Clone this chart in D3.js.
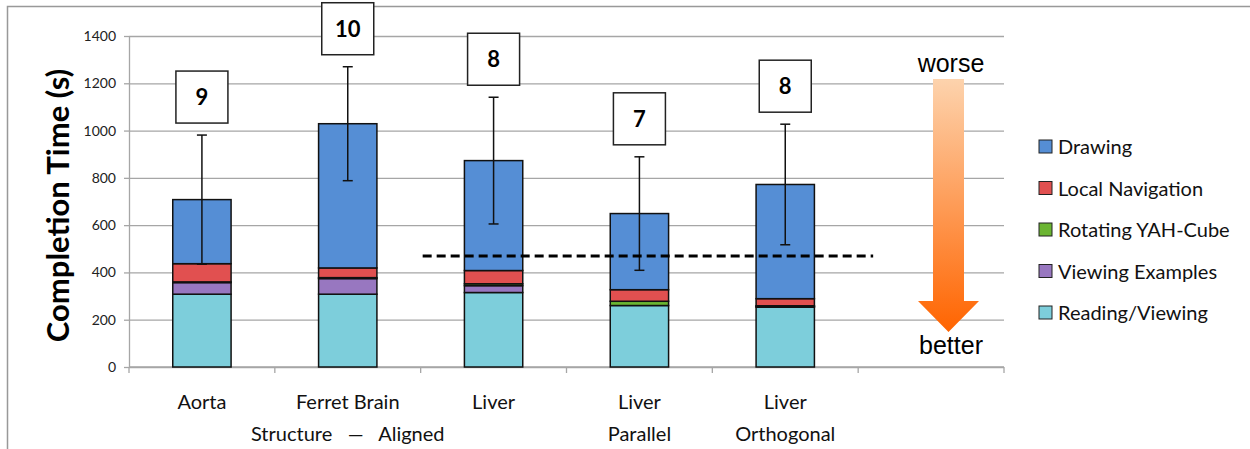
<!DOCTYPE html>
<html>
<head>
<meta charset="utf-8">
<script src="https://cdn.jsdelivr.net/npm/d3@7"></script>
<style>
  body { margin: 0; background: #fff; }
  svg { display: block; }
</style>
</head>
<body>
<div id="chart"></div>
<script>
(function () {

  // categories (multi-line labels), with an empty slot at the right
  const categories = ['Aorta', 'Ferret Brain', 'Liver', 'Liver Parallel', 'Liver Orthogonal']
  const labelLines = [['Aorta'], ['Ferret Brain'], ['Liver'], ['Liver', 'Parallel'], ['Liver', 'Orthogonal']]

  // stacked segments, bottom to top
  const reading = [308, 308, 315, 260, 253]
  const viewingExamples = [49, 66, 29, 0, 3]
  const rotatingCube = [3, 4, 8, 18, 3]
  const localNavigation = [77, 41, 56, 49, 30]
  const drawing = [271, 610, 465, 322, 483]

  const errors = [273, 241, 268, 240, 255]
  const counts = [9, 10, 8, 7, 8]
  const threshold = 470

  const yTicks = [0, 200, 400, 600, 800, 1000, 1200, 1400]

  const series = [
    { key: 'reading', name: 'Reading/Viewing', values: reading, color: '#7dcedb' },
    { key: 'viewing', name: 'Viewing Examples', values: viewingExamples, color: '#9877c0' },
    { key: 'rotating', name: 'Rotating YAH-Cube', values: rotatingCube, color: '#6bb532' },
    { key: 'local', name: 'Local Navigation', values: localNavigation, color: '#e15050' },
    { key: 'drawing', name: 'Drawing', values: drawing, color: '#558ed5' }
  ]

  const width = 1250
  const height = 449
  const plot = { left: 129, right: 1004, top: 36, bottom: 367 }
  const font = 'Lato, sans-serif'

  const svg = d3.select('#chart').append('svg')
    .attr('width', width)
    .attr('height', height)

  const rows = categories.map((c, i) => {
    const r = { cat: c }
    series.forEach(s => { r[s.key] = s.values[i] })
    return r
  })
  const stacked = d3.stack().keys(series.map(s => s.key))(rows)
  const totals = rows.map(r => d3.sum(series, s => r[s.key]))

  const xScale = d3.scaleBand()
    .domain(categories.concat(['']))
    .range([plot.left, plot.right])

  const yScale = d3.scaleLinear()
    .domain([0, 1400])
    .range([plot.bottom, plot.top])

  const barW = xScale.bandwidth() * 0.4
  const cx = c => xScale(c) + xScale.bandwidth() / 2

  // frame
  svg.append('path')
    .attr('d', 'M7.5,449 V6.5 H1250')
    .attr('fill', 'none')
    .attr('stroke', '#999')
    .attr('stroke-width', 1.5)

  // gridlines
  svg.append('g')
    .attr('transform', 'translate(' + plot.left + ',0)')
    .call(d3.axisLeft(yScale).tickValues(yTicks).tickSize(-(plot.right - plot.left)).tickFormat(''))
    .call(g => g.select('.domain').remove())
    .selectAll('line').attr('stroke', '#a6a6a6').attr('stroke-width', 1.3)

  // y axis
  const yAxis = svg.append('g')
    .attr('transform', 'translate(' + plot.left + ',0)')
    .call(d3.axisLeft(yScale).tickValues(yTicks).tickFormat(d3.format('d')).tickSize(5).tickPadding(8).tickSizeOuter(0))
  yAxis.select('.domain').attr('stroke', '#a6a6a6').attr('stroke-width', 1.3)
  yAxis.selectAll('line').attr('stroke', '#a6a6a6').attr('stroke-width', 1.3)
  yAxis.selectAll('text')
    .attr('font-family', font)
    .attr('font-size', 14)
    .attr('fill', '#222')

  // x axis line + ticks at band boundaries
  svg.append('line')
    .attr('x1', plot.left).attr('x2', plot.right)
    .attr('y1', yScale(0)).attr('y2', yScale(0))
    .attr('stroke', '#a6a6a6').attr('stroke-width', 1.3)
  svg.append('g').selectAll('line')
    .data(xScale.domain().concat(['end']))
    .join('line')
    .attr('x1', d => d === 'end' ? plot.right : xScale(d))
    .attr('x2', d => d === 'end' ? plot.right : xScale(d))
    .attr('y1', yScale(0)).attr('y2', yScale(0) + 6)
    .attr('stroke', '#a6a6a6').attr('stroke-width', 1.3)

  // stacked bars
  svg.append('g').selectAll('g')
    .data(stacked)
    .join('g')
    .attr('fill', (d, i) => series[i].color)
    .selectAll('rect')
    .data(d => d)
    .join('rect')
    .attr('x', d => cx(d.data.cat) - barW / 2)
    .attr('width', barW)
    .attr('y', d => yScale(d[1]))
    .attr('height', d => yScale(d[0]) - yScale(d[1]))
    .attr('stroke', '#111')
    .attr('stroke-width', 1.5)

  // error bars
  const err = svg.append('g').selectAll('g')
    .data(categories)
    .join('g')
    .attr('stroke', '#111')
    .attr('stroke-width', 1.5)
  err.append('line')
    .attr('x1', d => cx(d)).attr('x2', d => cx(d))
    .attr('y1', (d, i) => yScale(totals[i] - errors[i]))
    .attr('y2', (d, i) => yScale(totals[i] + errors[i]))
  err.append('line')
    .attr('x1', d => cx(d) - 5).attr('x2', d => cx(d) + 5)
    .attr('y1', (d, i) => yScale(totals[i] + errors[i]))
    .attr('y2', (d, i) => yScale(totals[i] + errors[i]))
  err.append('line')
    .attr('x1', d => cx(d) - 5).attr('x2', d => cx(d) + 5)
    .attr('y1', (d, i) => yScale(totals[i] - errors[i]))
    .attr('y2', (d, i) => yScale(totals[i] - errors[i]))

  // dashed threshold line
  svg.append('line')
    .attr('x1', xScale('Liver') + 2)
    .attr('x2', xScale('') + 15)
    .attr('y1', yScale(threshold)).attr('y2', yScale(threshold))
    .attr('stroke', '#000')
    .attr('stroke-width', 3)
    .attr('stroke-dasharray', '9,5')

  // participant count boxes
  const box = 52
  const boxes = svg.append('g').selectAll('g')
    .data(categories)
    .join('g')
    .attr('transform', (d, i) => 'translate(' + (cx(d) - box / 2) + ',' + (yScale(totals[i] + errors[i]) - 12 - box) + ')')
  boxes.append('rect')
    .attr('width', box).attr('height', box)
    .attr('fill', '#fff')
    .attr('stroke', '#222')
    .attr('stroke-width', 1.5)
  boxes.append('text')
    .attr('x', box / 2).attr('y', box / 2 + 8)
    .attr('text-anchor', 'middle')
    .attr('font-family', font)
    .attr('font-weight', 'bold')
    .attr('font-size', 22)
    .text((d, i) => counts[i])

  // category labels
  const xl = svg.append('g').selectAll('text')
    .data(categories)
    .join('text')
    .attr('x', d => cx(d))
    .attr('y', 409)
    .attr('text-anchor', 'middle')
    .attr('font-family', font)
    .attr('font-size', 20)
    .attr('fill', '#111')
  xl.selectAll('tspan')
    .data((d, i) => labelLines[i])
    .join('tspan')
    .attr('x', function () { return this.parentNode.getAttribute('x') })
    .attr('dy', (d, j) => j === 0 ? 0 : 32)
    .text(d => d)

  svg.append('text')
    .attr('x', cx('Ferret Brain'))
    .attr('y', 441)
    .attr('text-anchor', 'middle')
    .attr('font-family', font)
    .attr('font-size', 20)
    .attr('fill', '#111')
    .attr('xml:space', 'preserve')
    .text('Structure   —   Aligned')

  // y axis title
  svg.append('text')
    .attr('transform', 'translate(69,' + ((plot.top + plot.bottom) / 2 + 4) + ') rotate(-90)')
    .attr('text-anchor', 'middle')
    .attr('font-family', font)
    .attr('font-weight', 'bold')
    .attr('font-size', 31)
    .attr('fill', '#000')
    .text('Completion Time (s)')

  // worse / better arrow
  const defs = svg.append('defs')
  const grad = defs.append('linearGradient')
    .attr('id', 'arrowGrad')
    .attr('x1', 0).attr('y1', 0).attr('x2', 0).attr('y2', 1)
  grad.append('stop').attr('offset', '0%').attr('stop-color', '#fdd3ad')
  grad.append('stop').attr('offset', '100%').attr('stop-color', '#ff6400')

  svg.append('path')
    .attr('d', 'M933,79 H964 V301 H979 L948.5,332 L918,301 H933 Z')
    .attr('fill', 'url(#arrowGrad)')

  svg.append('text')
    .attr('x', 951).attr('y', 72)
    .attr('text-anchor', 'middle')
    .attr('font-family', 'Liberation Sans, sans-serif')
    .attr('font-size', 25)
    .text('worse')
  svg.append('text')
    .attr('x', 951).attr('y', 354)
    .attr('text-anchor', 'middle')
    .attr('font-family', 'Liberation Sans, sans-serif')
    .attr('font-size', 25)
    .text('better')

  // legend, top to bottom reversed stack order
  const legend = svg.append('g').selectAll('g')
    .data(series.slice().reverse())
    .join('g')
    .attr('transform', (d, i) => 'translate(1039,' + (147 + i * 41.5) + ')')
  legend.append('rect')
    .attr('x', 0).attr('y', -7)
    .attr('width', 13).attr('height', 13)
    .attr('fill', d => d.color)
    .attr('stroke', '#222')
    .attr('stroke-width', 1)
  legend.append('text')
    .attr('x', 19).attr('y', 7)
    .attr('font-family', font)
    .attr('font-size', 20)
    .attr('fill', '#111')
    .text(d => d.name)

})();
</script>
</body>
</html>
